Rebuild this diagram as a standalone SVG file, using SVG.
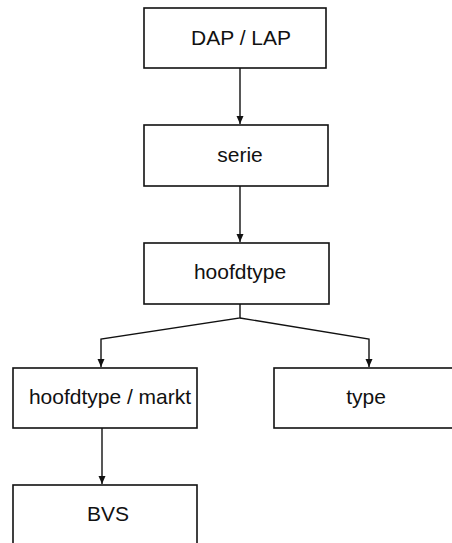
<svg xmlns="http://www.w3.org/2000/svg" width="452" height="543" viewBox="0 0 452 543">
<defs>
<marker id="ah" viewBox="0 0 8 10" refX="8" refY="5" markerWidth="8" markerHeight="10" markerUnits="userSpaceOnUse" orient="auto">
<path d="M0,1.5 L8,5 L0,8.5 Z" fill="#111"/>
</marker>
<style>
.box{fill:#fff;stroke:#111;stroke-width:1.6}
.lbl{font-family:"Liberation Sans",Arial,sans-serif;font-size:21px;fill:#111;text-anchor:middle}
.con{fill:none;stroke:#111;stroke-width:1.4}
</style>
</defs>
<rect width="452" height="543" fill="#fff"/>
<g id="connectors">
<path class="con" d="M240,68 L240,124" marker-end="url(#ah)"/>
<path class="con" d="M240,186 L240,242" marker-end="url(#ah)"/>
<path class="con" d="M240,304 L240,318 L101,339 L101,367" marker-end="url(#ah)"/>
<path class="con" d="M240,318 L369,339 L369,367" marker-end="url(#ah)"/>
<path class="con" d="M102,428 L102,484" marker-end="url(#ah)"/>
</g>
<g id="n1"><rect class="box" x="144" y="8" width="182" height="60"/><text class="lbl" x="241" y="45">DAP / LAP</text></g>
<g id="n2"><rect class="box" x="144" y="125" width="184" height="61"/><text class="lbl" x="240" y="162">serie</text></g>
<g id="n3"><rect class="box" x="144" y="243" width="185" height="61"/><text class="lbl" x="240" y="279">hoofdtype</text></g>
<g id="n4"><rect class="box" x="13" y="368" width="184" height="60"/><text class="lbl" x="110" y="404">hoofdtype / markt</text></g>
<g id="n5"><rect class="box" x="274" y="368" width="190" height="60"/><text class="lbl" x="366" y="404">type</text></g>
<g id="n6"><rect class="box" x="13" y="485" width="184" height="70"/><text class="lbl" x="108" y="521">BVS</text></g>
</svg>
